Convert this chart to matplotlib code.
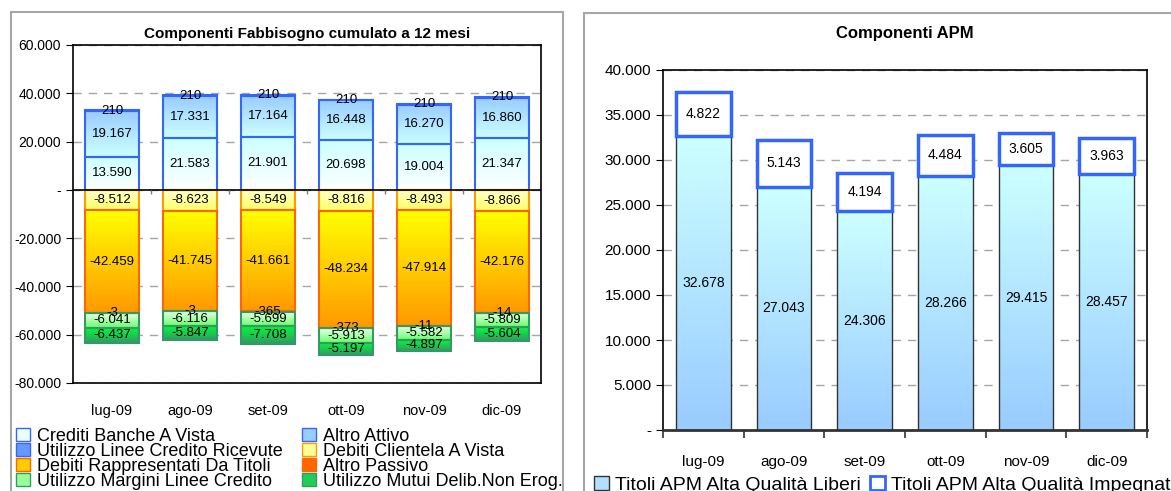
import numpy as np
import matplotlib.pyplot as plt
from matplotlib.patches import Patch, Rectangle
from matplotlib.colors import LinearSegmentedColormap
from matplotlib.ticker import FuncFormatter, MultipleLocator

plt.rcParams['font.family'] = ['Liberation Sans', 'DejaVu Sans']

mesi = ['lug-09', 'ago-09', 'set-09', 'ott-09', 'nov-09', 'dic-09']

# fabbisogno cumulato a 12 mesi: attivo (positivo) e passivo (negativo)
crediti_banche = [13590, 21583, 21901, 20698, 19004, 21347]
altro_attivo = [19167, 17331, 17164, 16448, 16270, 16860]
linee_ricevute = [210, 210, 210, 210, 210, 210]
debiti_clientela = [-8512, -8623, -8549, -8816, -8493, -8866]
debiti_titoli = [-42459, -41745, -41661, -48234, -47914, -42176]
altro_passivo = [-3, -3, -365, -373, -11, -14]
margini_linee = [-6041, -6116, -5699, -5913, -5582, -5809]
mutui_non_erog = [-6437, -5847, -7708, -5197, -4897, -5604]

# componenti APM
apm_liberi = [32678, 27043, 24306, 28266, 29415, 28457]
apm_impegnati = [4822, 5143, 4194, 4484, 3605, 3963]


def fmt_it(v):
    return f"{v:,.0f}".replace(',', '.')


def fmt_tick(v, pos=None):
    return '-' if v == 0 else fmt_it(v)


def grad_bar(ax, x, bottom, height, width, c_top, c_bot, edge, lw=1.5):
    # riempimento sfumato verticale + bordo della barra
    cmap = LinearSegmentedColormap.from_list('g', [c_bot, c_top])
    y0, y1 = sorted([bottom, bottom + height])
    grad = np.linspace(0, 1, 64).reshape(-1, 1)
    ax.imshow(grad, cmap=cmap, origin='lower', aspect='auto',
              extent=[x - width / 2, x + width / 2, y0, y1],
              interpolation='bilinear', zorder=2)
    ax.bar(x, height, width, bottom=bottom, facecolor='none',
           edgecolor=edge, linewidth=lw, zorder=3)


fig = plt.figure(figsize=(11.71, 4.91), dpi=100)

# cornici dei due riquadri
fig.patches.append(Rectangle((11 / 1171, -0.05), 552 / 1171, 1 - 12 / 491 + 0.05,
                             transform=fig.transFigure, fill=False,
                             edgecolor='#a6a6a6', linewidth=1.5))
fig.patches.append(Rectangle((584 / 1171, -0.05), 0.6, 1 - 13 / 491 + 0.05,
                             transform=fig.transFigure, fill=False,
                             edgecolor='#a6a6a6', linewidth=1.5))

# ---------------- grafico sinistro ----------------
ax1 = fig.add_axes([73 / 1171, 108 / 491, 468 / 1171, 338 / 491])
x = np.arange(len(mesi))
w = 0.68

pos_series = [
    (crediti_banche, '#ccffff', '#ffffff', '#3366ff'),
    (altro_attivo, '#99ccff', '#ccffff', '#3366ff'),
    (linee_ricevute, '#6699ff', '#6699ff', '#3366ff'),
]
neg_series = [
    (debiti_clientela, '#ffff66', '#ffffcc', '#ff9900'),
    (debiti_titoli, '#ff9900', '#ffff00', '#ff6600'),
    (altro_passivo, '#ff6600', '#ff6600', '#ff6600'),
    (margini_linee, '#66ff66', '#eaffea', '#339966'),
    (mutui_non_erog, '#339966', '#00ff33', '#339966'),
]

for series in (pos_series, neg_series):
    base = np.zeros(len(mesi))
    for vals, ctop, cbot, edge in series:
        vals = np.array(vals, dtype=float)
        for i in range(len(mesi)):
            if vals[i] < 0:
                grad_bar(ax1, x[i], base[i], vals[i], w, cbot, ctop, edge)
            else:
                grad_bar(ax1, x[i], base[i], vals[i], w, ctop, cbot, edge)
            ax1.text(x[i], base[i] + vals[i] / 2, fmt_it(vals[i]),
                     ha='center', va='center', fontsize=9.5, zorder=5)
        base = base + vals

ax1.axhline(0, color='black', linewidth=1.2, zorder=4)
ax1.vlines(x[:-1] + 0.5, -1600, 0, color='#808080', linewidth=1, zorder=4)
ax1.set_xlim(-0.5, len(mesi) - 0.5)
ax1.set_ylim(-80000, 60000)
ax1.yaxis.set_major_locator(MultipleLocator(20000))
ax1.yaxis.set_major_formatter(FuncFormatter(fmt_tick))
ax1.yaxis.grid(True, linestyle=(0, (6, 5)), color='#a6a6a6', linewidth=1, zorder=0)
ax1.set_axisbelow(True)
ax1.set_xticks(x)
ax1.set_xticklabels(mesi)
ax1.tick_params(axis='x', length=0, pad=15, labelsize=10.5)
ax1.tick_params(axis='y', length=5, labelsize=10, direction='out')
for s in ax1.spines.values():
    s.set_color('black')
    s.set_linewidth(1.2)
ax1.set_title('Componenti Fabbisogno cumulato a 12 mesi', fontsize=11,
              fontweight='bold', pad=5)

# ordine per righe: la legenda di matplotlib riempie per colonne
handles1 = [
    Patch(facecolor='#eaffff', edgecolor='#3366ff', label='Crediti Banche A Vista'),
    Patch(facecolor='#6699ff', edgecolor='#3366ff', label='Utilizzo Linee Credito Ricevute'),
    Patch(facecolor='#ffcc00', edgecolor='#ff6600', label='Debiti Rappresentati Da Titoli'),
    Patch(facecolor='#99ff99', edgecolor='#339966', label='Utilizzo Margini Linee Credito'),
    Patch(facecolor='#99ccff', edgecolor='#3366ff', label='Altro Attivo'),
    Patch(facecolor='#ffff99', edgecolor='#ff9900', label='Debiti Clientela A Vista'),
    Patch(facecolor='#ff6600', edgecolor='#ff6600', label='Altro Passivo'),
    Patch(facecolor='#22cc55', edgecolor='#339966', label='Utilizzo Mutui Delib.Non Erog.'),
]
fig.legend(handles=handles1, ncol=2, loc='upper left',
           bbox_to_anchor=(16 / 1171, 1 - 428 / 491), frameon=False,
           fontsize=13, handlelength=0.75, handleheight=0.75, handletextpad=0.4,
           labelspacing=-0.12, columnspacing=1.1, borderpad=0, borderaxespad=0)

# ---------------- grafico destro ----------------
ax2 = fig.add_axes([663 / 1171, 61 / 491, 484 / 1171, 360 / 491])
w2 = 0.68
lib = np.array(apm_liberi, dtype=float)
imp = np.array(apm_impegnati, dtype=float)
for i in range(len(mesi)):
    grad_bar(ax2, x[i], 0, lib[i], w2, '#ccffff', '#99ccff', '#333333', lw=1)
    ax2.text(x[i], lib[i] / 2, fmt_it(lib[i]), ha='center', va='center',
             fontsize=10, zorder=5)
ax2.bar(x, imp, w2, bottom=lib, facecolor='white', edgecolor='#3366ff',
        linewidth=2.5, zorder=3)
for i in range(len(mesi)):
    ax2.text(x[i], lib[i] + imp[i] / 2, fmt_it(imp[i]), ha='center',
             va='center', fontsize=10, zorder=5)

ax2.set_xlim(-0.5, len(mesi) - 0.5)
ax2.set_ylim(0, 40000)
ax2.yaxis.set_major_locator(MultipleLocator(5000))
ax2.yaxis.set_major_formatter(FuncFormatter(fmt_tick))
ax2.yaxis.grid(True, linestyle=(0, (6, 5)), color='#a6a6a6', linewidth=1, zorder=0)
ax2.set_axisbelow(True)
ax2.set_xticks(x)
ax2.set_xticklabels(mesi)
ax2.set_xticks(np.arange(len(mesi) + 1) - 0.5, minor=True)
ax2.tick_params(axis='x', which='major', length=0, pad=18, labelsize=11)
ax2.tick_params(axis='x', which='minor', length=6, width=1.2, color='#333333')
ax2.tick_params(axis='y', length=5, labelsize=11, direction='out')
for s in ax2.spines.values():
    s.set_color('black')
    s.set_linewidth(1.2)
ax2.spines['bottom'].set_linewidth(2)
ax2.spines['bottom'].set_color('#333333')
ax2.set_title('Componenti APM', fontsize=12, fontweight='bold', pad=23)

handles2 = [
    Patch(facecolor='#b3dfff', edgecolor='#333333', label='Titoli APM Alta Qualità Liberi'),
    Patch(facecolor='white', edgecolor='#3366ff', linewidth=2, label='Titoli APM Alta Qualità Impegnati'),
]
fig.legend(handles=handles2, ncol=2, loc='upper left',
           bbox_to_anchor=(594 / 1171, 1 - 476 / 491), frameon=False,
           fontsize=14, handlelength=0.75, handleheight=0.75, handletextpad=0.35,
           columnspacing=0.45, borderpad=0, borderaxespad=0)

fig.savefig('out.png', dpi=100)
